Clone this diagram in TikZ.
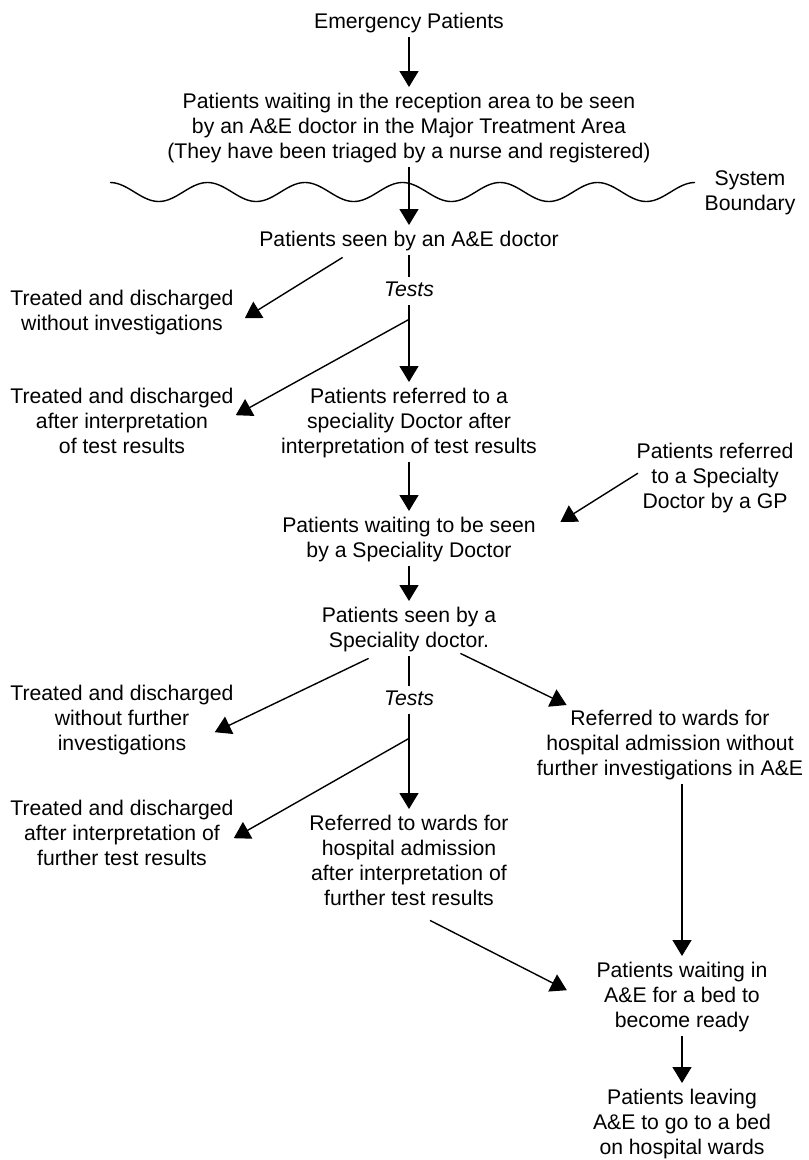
\documentclass[tikz,border=0pt]{standalone}
\usepackage{fontspec}
\setmainfont{Liberation Sans}
\usetikzlibrary{arrows.meta}
% struts that give every label the same top and bottom margin
\newcommand\linetop{\rule{0pt}{16pt}}
\newcommand\linebot{\rule[-5pt]{0pt}{5pt}}
\begin{document}
\begin{tikzpicture}[x=1pt,y=-1pt,
  lbl/.style={align=center,inner sep=0pt,anchor=north,
    font=\fontsize{21.2pt}{25pt}\selectfont},
  testlbl/.style={lbl,font=\fontsize{21.2pt}{25pt}\selectfont\itshape},
  flow/.style={line width=1.4pt,-{Triangle[width=19pt,length=16pt]},
    shorten <=4pt,shorten >=5pt},
  link/.style={line width=1.4pt,shorten <=4pt,shorten >=3pt},
  side/.style={flow,shorten <=0pt,shorten >=0pt}]
\useasboundingbox (0,0) rectangle (809,1160);

% ---------- labels ----------
\node[lbl] (emerg) at (409,12) {\linetop Emergency Patients\linebot};
\node[lbl] (recep) at (409,92) {\linetop Patients waiting in the reception area to be seen\\
  by an A\&E doctor in the Major Treatment Area\\
  (They have been triaged by a nurse and registered)\linebot};
\node[lbl] (sysb) at (750,169) {\linetop System\\Boundary\linebot};
\node[lbl] (seenAE) at (409,230) {\linetop Patients seen by an A\&E doctor\linebot};
\node[testlbl] (testsA) at (409,280) {\linetop Tests\linebot};
\node[lbl] (tdA) at (122,289) {\linetop Treated and discharged\\without investigations\linebot};
\node[lbl] (tdB) at (122,387) {\linetop Treated and discharged\\after interpretation\\of test results\linebot};
\node[lbl] (refSp) at (409,387) {\linetop Patients referred to a\\speciality Doctor after\\interpretation of test results\linebot};
\node[lbl] (gp) at (715,442) {\linetop Patients referred\\to a Specialty\\Doctor by a GP\linebot};
\node[lbl] (waitSp) at (409,516) {\linetop Patients waiting to be seen\\by a Speciality Doctor\linebot};
\node[lbl] (seenSp) at (409,606) {\linetop Patients seen by a\\Speciality doctor.\linebot};
\node[testlbl] (testsB) at (409,689) {\linetop Tests\linebot};
\node[lbl] (tdC) at (122,684) {\linetop Treated and discharged\\without further\\investigations\linebot};
\node[lbl] (refW) at (670,709) {\linetop Referred to wards for\\hospital admission without\\further investigations in A\&E\linebot};
\node[lbl] (tdD) at (122,799) {\linetop Treated and discharged\\after interpretation of\\further test results\linebot};
\node[lbl] (refAd) at (409,814) {\linetop Referred to wards for\\hospital admission\\after interpretation of\\further test results\linebot};
\node[lbl] (waitBed) at (682,961) {\linetop Patients waiting in\\A\&E for a bed to\\become ready\linebot};
\node[lbl] (leave) at (682,1088) {\linetop Patients leaving\\A\&E to go to a bed\\on hospital wards\linebot};

% ---------- system boundary ----------
\draw[line width=1.4pt] plot[domain=110:695,samples=240,smooth]
  (\x,{192-9.5*cos(3.6923*(\x-110))});

% ---------- branch points on the test lines ----------
\path (testsA.south) ++(0,18) coordinate (brA);
\path (testsB.south) ++(0,28) coordinate (brB);

% ---------- main flow ----------
\draw[flow] (emerg) -- (recep);
\draw[flow] (recep) -- (seenAE);
\draw[link] (seenAE) -- (testsA);
\draw[flow] (testsA) -- (refSp);
\draw[flow] (refSp) -- (waitSp);
\draw[flow] (waitSp) -- (seenSp);
\draw[link] (seenSp) -- (testsB);
\draw[flow] (testsB) -- (refAd);
\draw[flow] (refW.south -| waitBed) -- (waitBed);
\draw[flow] (waitBed) -- (leave);

% ---------- side branches ----------
\draw[side] ([shift={(83.5,6)}]seenAE.south west) -- ([shift={(11,6)}]tdA.east);
\draw[side] (brA) -- ([shift={(2,-7.5)}]tdB.east);
\draw[side] ([shift={(1.5,-4.5)}]gp.west) -- ([shift={(24.5,6)}]waitSp.north east);
\draw[side] ([shift={(47,6)}]seenSp.south west) -- ([shift={(-19,12.5)}]tdC.east);
\draw[side] ([shift={(-36,1)}]seenSp.south east) -- ([shift={(30,-4)}]refW.north west);
\draw[side] (brB) -- ([shift={(0,3.5)}]tdD.east);
\draw[side] ([shift={(21,10)}]refAd.south) -- ([shift={(-29.5,-6.5)}]waitBed.west);
\end{tikzpicture}
\end{document}
